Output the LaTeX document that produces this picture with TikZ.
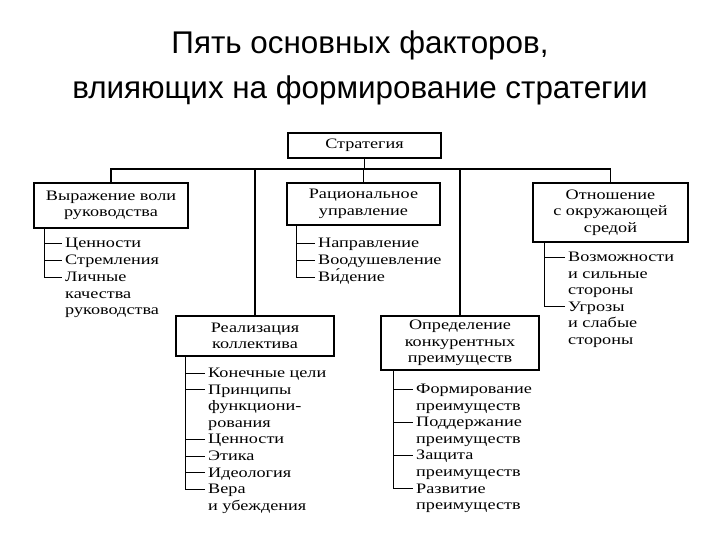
\documentclass[tikz,border=0pt]{standalone}
\usepackage{fontspec}
\setmainfont{Liberation Serif}
\newfontfamily\titlefont{Liberation Sans}
\newfontfamily\bodyfont[FakeStretch=1.26]{Liberation Serif}
\usetikzlibrary{calc}
\begin{document}
\begin{tikzpicture}[x=1bp,y=-1bp,
  box/.style={draw, line width=1.2pt, inner sep=0, align=center,
    font=\bodyfont\fontsize{14.5}{16.4}\selectfont},
  item/.style={anchor=base west, inner sep=0,
    font=\bodyfont\fontsize{14.5}{16.6}\selectfont},
  conn/.style={line width=1.1pt},
  tick/.style={line width=1pt},
]
\path[use as bounding box] (0,0) rectangle (720,540);
\node[font=\titlefont\fontsize{31.5}{45}\selectfont, align=center] (title) at (360,68)
  {Пять основных факторов,\\влияющих на формирование стратегии};

% boxes
\node[box, minimum width=153bp, minimum height=25bp] (strat) at (364.5,145.5) {Стратегия};
\node[box, minimum width=154bp, minimum height=45bp] (vyr) at (111,205.5) {Выражение воли\\руководства};
\node[box, minimum width=153bp, minimum height=42bp] (rac) at (363.5,204) {Рациональное\\управление};
\node[box, minimum width=155bp, minimum height=59bp] (otn) at (610.5,212.5) {Отношение\\с окружающей\\средой};
\node[box, minimum width=158bp, minimum height=40bp] (real) at (255,336) {Реализация\\коллектива};
\node[box, minimum width=158bp, minimum height=54bp] (opr) at (460,343) {Определение\\конкурентных\\преимуществ};

% bus
\coordinate (bus) at (0,169);
\draw[conn] (strat.south) -- (strat.south |- bus);
\draw[conn] (vyr.north) -- (vyr.north |- bus) -- (otn.north |- bus) -- (otn.north);
\draw[conn] (rac.north) -- (rac.north |- bus);
\draw[conn] (real.north) -- (real.north |- bus);
\draw[conn] (opr.north) -- (opr.north |- bus);

% items: Выражение воли
\node[item] (v1) at (65,248) {Ценности};
\node[item] (v2) at (65,264.8) {Стремления};
\node[item] (v3) at (65,281.6) {\begin{tabular}[t]{@{}l@{}}Личные\\качества\\руководства\end{tabular}};
\coordinate (vs) at ($(vyr.south west)+(11,0)$);
\draw[tick] (vs) -- ($(vs |- v3.base west)+(0,-4.5)$);
\foreach \n in {v1,v2,v3}
  \draw[tick] ($(vs |- \n.base west)+(0,-4.5)$) -- ($(\n.base west)+(-3,-4.5)$);

% items: Рациональное
\node[item] (r1) at (318,248) {Направление};
\node[item] (r2) at (318,264.8) {Воодушевление};
\node[item] (r3) at (318,281.6) {Ви́дение};
\coordinate (rs) at ($(rac.south west)+(10,0)$);
\draw[tick] (rs) -- ($(rs |- r3.base west)+(0,-4.5)$);
\foreach \n in {r1,r2,r3}
  \draw[tick] ($(rs |- \n.base west)+(0,-4.5)$) -- ($(\n.base west)+(-3,-4.5)$);

% items: Отношение
\node[item] (o1) at (568,261.5) {\begin{tabular}[t]{@{}l@{}}Возможности\\и сильные\\стороны\end{tabular}};
\node[item] (o2) at (568,311.3) {\begin{tabular}[t]{@{}l@{}}Угрозы\\и слабые\\стороны\end{tabular}};
\coordinate (os) at ($(otn.south west)+(12,0)$);
\draw[tick] (os) -- ($(os |- o2.base west)+(0,-4.5)$);
\foreach \n in {o1,o2}
  \draw[tick] ($(os |- \n.base west)+(0,-4.5)$) -- ($(\n.base west)+(-3,-4.5)$);

% items: Реализация
\node[item] (e1) at (208,377.5) {Конечные цели};
\node[item] (e2) at (208,394.1) {\begin{tabular}[t]{@{}l@{}}Принципы\\функциони-\\рования\end{tabular}};
\node[item] (e3) at (208,443.9) {Ценности};
\node[item] (e4) at (208,460.5) {Этика};
\node[item] (e5) at (208,477.1) {Идеология};
\node[item] (e6) at (208,493.7) {\begin{tabular}[t]{@{}l@{}}Вера\\и убеждения\end{tabular}};
\coordinate (es) at ($(real.south west)+(10,0)$);
\draw[tick] (es) -- ($(es |- e6.base west)+(0,-4.5)$);
\foreach \n in {e1,e2,e3,e4,e5,e6}
  \draw[tick] ($(es |- \n.base west)+(0,-4.5)$) -- ($(\n.base west)+(-3,-4.5)$);

% items: Определение
\node[item] (p1) at (416,393.5) {\begin{tabular}[t]{@{}l@{}}Формирование\\преимуществ\end{tabular}};
\node[item] (p2) at (416,426.7) {\begin{tabular}[t]{@{}l@{}}Поддержание\\преимуществ\end{tabular}};
\node[item] (p3) at (416,459.9) {\begin{tabular}[t]{@{}l@{}}Защита\\преимуществ\end{tabular}};
\node[item] (p4) at (416,493.1) {\begin{tabular}[t]{@{}l@{}}Развитие\\преимуществ\end{tabular}};
\coordinate (ps) at ($(opr.south west)+(13,0)$);
\draw[tick] (ps) -- ($(ps |- p4.base west)+(0,-4.5)$);
\foreach \n in {p1,p2,p3,p4}
  \draw[tick] ($(ps |- \n.base west)+(0,-4.5)$) -- ($(\n.base west)+(-3,-4.5)$);
\end{tikzpicture}
\end{document}
